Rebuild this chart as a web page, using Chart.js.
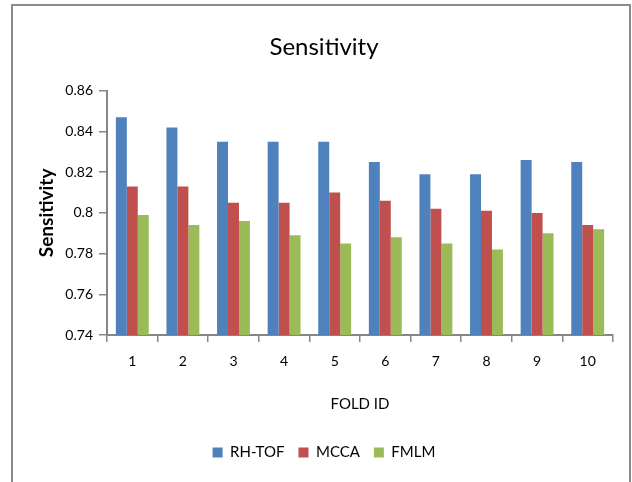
<!DOCTYPE html>
<html>
<head>
<meta charset="utf-8">
<script src="https://cdn.jsdelivr.net/npm/chart.js@4/dist/chart.umd.min.js"></script>
<style>
html,body{margin:0;padding:0;background:#fff;overflow:hidden;width:632px;height:482px;}
#wrap{position:absolute;left:0;top:0;width:632px;height:482px;}
#frame{position:absolute;left:11px;top:4px;width:616px;height:520px;border:2px solid #8c8c8c;box-sizing:content-box;}
canvas{position:absolute;left:0;top:0;}
</style>
</head>
<body>
<div id="wrap">
<div id="frame"></div>
<canvas id="c" width="632" height="482"></canvas>
</div>
<script>
const categories = ["1","2","3","4","5","6","7","8","9","10"];
const rhTof = [0.847, 0.842, 0.835, 0.835, 0.835, 0.825, 0.819, 0.819, 0.826, 0.825];
const mcca  = [0.813, 0.813, 0.805, 0.805, 0.810, 0.806, 0.802, 0.801, 0.800, 0.794];
const fmlm  = [0.799, 0.794, 0.796, 0.789, 0.785, 0.788, 0.785, 0.782, 0.790, 0.792];
const seriesNames = ["RH-TOF", "MCCA", "FMLM"];
const yTicks = [0.74, 0.76, 0.78, 0.8, 0.82, 0.84, 0.86];

const FONT = "Lato, 'Liberation Sans', sans-serif";
const axisColor = "#868686";

new Chart(document.getElementById("c"), {
  type: "bar",
  data: {
    labels: categories,
    datasets: [
      {label: seriesNames[0], data: rhTof, backgroundColor: "#4F81BD"},
      {label: seriesNames[1], data: mcca, backgroundColor: "#C0504D"},
      {label: seriesNames[2], data: fmlm, backgroundColor: "#9BBB59"}
    ]
  },
  options: {
    responsive: false,
    animation: false,
    devicePixelRatio: 1,
    datasets: {bar: {categoryPercentage: 0.65, barPercentage: 1.0}},
    layout: {padding: {left: 35, right: 19, top: 0, bottom: 12}},
    plugins: {
      title: {
        display: true, text: "Sensitivity", color: "#000",
        font: {family: FONT, size: 24, weight: "normal"},
        padding: {top: 33, bottom: 29}
      },
      legend: {
        position: "bottom",
        labels: {
          color: "#000", boxWidth: 10, boxHeight: 10, padding: 14,
          font: {family: FONT, size: 15}
        }
      },
      tooltip: {enabled: false}
    },
    scales: {
      x: {
        grid: {display: true, drawOnChartArea: false, drawTicks: true, offset: true, tickLength: 7, color: axisColor, lineWidth: 1.5},
        border: {display: true, color: axisColor, width: 2},
        ticks: {color: "#000", font: {family: FONT, size: 14}, padding: 11},
        title: {display: true, text: "FOLD ID", color: "#000", font: {family: FONT, size: 15}, padding: {top: 12, bottom: 18}},
        afterFit: s => { s.height = 96; }
      },
      y: {
        min: 0.74, max: 0.86,
        afterBuildTicks: s => { s.ticks = yTicks.map(v => ({value: v})); },
        grid: {display: true, drawOnChartArea: false, drawTicks: true, tickLength: 8, color: axisColor, lineWidth: 1.5},
        border: {display: true, color: axisColor, width: 2},
        ticks: {color: "#000", font: {family: FONT, size: 14}, padding: 6, callback: v => String(Math.round(v*100)/100)},
        title: {display: true, text: "Sensitivity", color: "#000", font: {family: FONT, size: 19, weight: "bold"}, padding: {top: 0, bottom: 4}},
        afterFit: s => { s.width = 72; }
      }
    }
  }
});
</script>
</body>
</html>
